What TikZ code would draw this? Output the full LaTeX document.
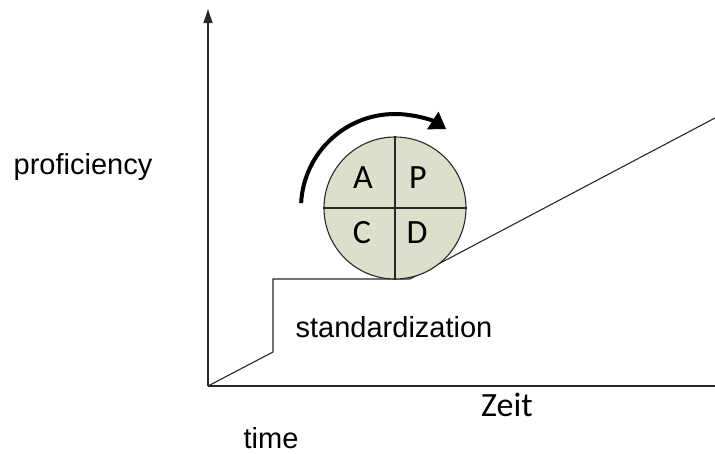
\documentclass[tikz,border=0pt]{standalone}
\usepackage{fontspec}
\setmainfont{Liberation Sans}
\newfontfamily\calfont{Carlito}
\usepackage{tikz}
\usetikzlibrary{arrows.meta, calc, positioning}
\definecolor{axisgray}{RGB}{40,40,40}
\definecolor{pdcafill}{RGB}{220,223,202}
\tikzset{
  axis/.style={draw=axisgray, line width=1.3pt},
  curve/.style={draw=axisgray, line width=1.1pt},
  pdca/.style={
    circle, draw=axisgray, line width=1.1pt, fill=pdcafill,
    minimum size=142pt, inner sep=0pt
  },
  phase/.style={font=\calfont\fontsize{34}{38}\selectfont, inner sep=0pt},
  label/.style={font=\fontsize{29}{34}\selectfont, inner sep=0pt},
  cycle arrow/.style={draw=black, line width=4pt, -{Triangle[length=16pt, width=20pt]}},
}
\begin{document}
\begin{tikzpicture}[x=1pt, y=-1pt]
  \useasboundingbox (0,0) rectangle (715,453);
  % axes
  \coordinate (O) at (208,386);
  \coordinate (ytop) at (208,9);
  \coordinate (xend) at (729,386);
  \draw[axis, -{Triangle[length=14pt, width=9pt]}] (O) -- (ytop);
  \draw[axis, -{Triangle[length=14pt, width=9pt]}] (O) -- (xend);

  % learning curve with the step
  \coordinate (foot) at (273,352);
  \coordinate (steptop) at (273,279);
  \coordinate (stepend) at (410,279);
  \coordinate (rise) at (715,118);
  \draw[curve] (O) -- (foot) -- (steptop) -- (stepend) -- (rise);

  % the PDCA wheel
  \node[pdca] (wheel) at (395,208) {};
  \draw[curve] (wheel.north) -- (wheel.south)
               (wheel.west) -- (wheel.east);
  \node[phase] (A) at (363,178) {A};
  \node[phase] (P) at (418,178) {P};
  \node[phase] (C) at (362,233) {C};
  \node[phase] (D) at (417,233) {D};
  \draw[cycle arrow] ($(wheel.center)+(183:94)$) arc[start angle=183, end angle=303, radius=94];

  % texts
  \node[label] (prof) at (83,167) {proficiency};
  \node[label] (std) at (394,327) {standardization};
  \node[label] (time) at (271,438) {time};
  \node[phase] (zeit) at (507,405) {Zeit};
\end{tikzpicture}
\end{document}
